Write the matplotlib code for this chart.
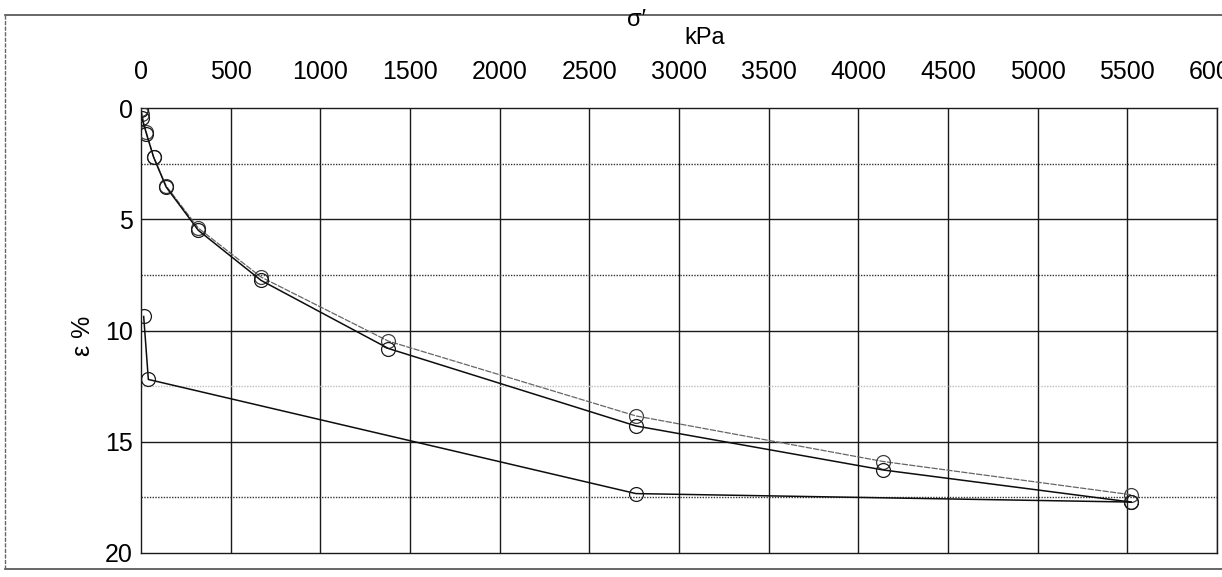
import matplotlib
matplotlib.use("Agg")
import matplotlib.pyplot as plt
from matplotlib.lines import Line2D

plt.rcParams['font.family'] = ['Liberation Sans', 'DejaVu Sans']

# oedometer test: effective stress (kPa) vs strain (%)
stress_load = [0, 5, 30, 70, 140, 320, 670, 1380, 2760, 4140, 5520]
strain_load_a = [0.05, 0.25, 1.1, 2.2, 3.5, 5.4, 7.6, 10.48, 13.84, 15.89, 17.38]
strain_load_b = [0.1, 0.45, 1.15, 2.2, 3.55, 5.5, 7.75, 10.81, 14.29, 16.27, 17.71]

stress_unload = [5520, 2760, 41, 15]
strain_unload = [17.71, 17.33, 12.2, 9.37]

x_ticks = list(range(0, 6001, 500))
y_major = [5, 10, 15]
y_minor = [2.5, 7.5, 12.5, 17.5]

W, H = 1222, 577
fig = plt.figure(figsize=(W / 100, H / 100), dpi=100)
ax = fig.add_axes([141 / W, 1 - 553 / H, (1217 - 141) / W, (553 - 108) / H])

ax.set_xlim(0, 6000)
ax.set_ylim(20, 0)

# grid
for x in x_ticks[1:]:
    ax.axvline(x, color='0.1', lw=1.0, zorder=1)
for y in y_major:
    ax.axhline(y, color='0.1', lw=1.0, zorder=1)
for y in y_minor:
    c = '0.75' if y == 12.5 else '0.2'
    ax.axhline(y, color=c, lw=1.0, ls=(0, (1, 1)), zorder=1)

mk = dict(marker='o', markersize=10, markerfacecolor='none', markeredgewidth=0.9)
ax.plot(stress_load, strain_load_a, color='0.4', lw=0.9, ls=(0, (5, 1)),
        markeredgecolor='0.25', zorder=3, **mk)
ax.plot(stress_load, strain_load_b, color='0.05', lw=1.1,
        markeredgecolor='0.1', zorder=4, **mk)
ax.plot(stress_unload, strain_unload, color='0.05', lw=1.1,
        markeredgecolor='0.1', zorder=4, **mk)

ax.set_xticks(x_ticks)
ax.set_yticks([0, 5, 10, 15, 20])
ax.xaxis.tick_top()
ax.tick_params(axis='x', length=0, pad=17, labelsize=18)
ax.tick_params(axis='y', length=0, pad=6, labelsize=18)
for s in ax.spines.values():
    s.set_color('0.1')
    s.set_linewidth(1.0)

fig.text(637 / W, 1 - 20 / H, 'σ′', fontsize=17, ha='center', va='center')
fig.text(705 / W, 1 - 38 / H, 'kPa', fontsize=17, ha='center', va='center')
fig.text(83 / W, 1 - 336 / H, 'ε %', fontsize=18, rotation=90, ha='center', va='center')

# outer frame
fig.add_artist(Line2D([5 / W, 1.0], [1 - 15 / H] * 2, color='0.3', lw=1.2))
fig.add_artist(Line2D([5 / W, 1.0], [1 - 569 / H] * 2, color='0.3', lw=1.2))
fig.add_artist(Line2D([5 / W] * 2, [1 - 15 / H, 1 - 569 / H], color='0.4', lw=1.0,
                      ls=(0, (3, 1))))

fig.savefig('out.png', dpi=100)
